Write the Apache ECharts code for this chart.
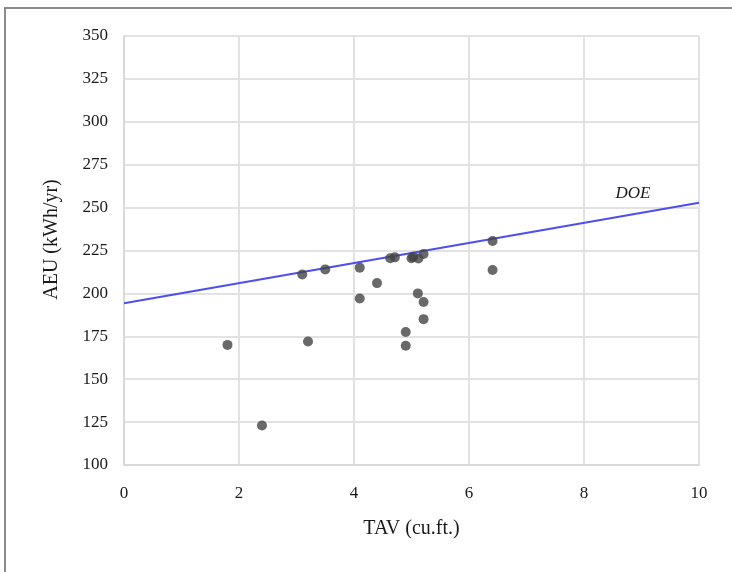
<!DOCTYPE html>
<html><head><meta charset="utf-8">
<script src="https://cdn.jsdelivr.net/npm/echarts@6/dist/echarts.min.js"></script>
<style>
html,body{margin:0;padding:0;background:#fff;}
#frame{position:absolute;left:4px;top:7px;width:740px;height:580px;border-left:2px solid #8a8a8a;border-top:2px solid #8a8a8a;}
#chart{position:absolute;left:0;top:0;width:732px;height:572px;}
</style></head>
<body>
<div id="frame"></div>
<div id="chart"></div>
<script>
var tavValues = [1.8, 2.4, 3.1, 3.2, 3.5, 4.1, 4.1, 4.4, 4.63, 4.71, 4.9, 4.9, 5.0, 5.03, 5.12, 5.11, 5.21, 5.21, 5.21, 6.41, 6.41];
var aeuValues = [170, 123, 211, 172, 214, 215, 197, 206, 220.5, 221, 177.5, 169.5, 220.5, 221.4, 220.3, 200, 223, 195, 185, 230.5, 213.6];
var doeLineX = [0, 10];
var doeLineY = [194.2, 252.8];
var doeLabel = 'DOE';
var doeLabelPos = [8.85, 258];
var xTicks = [0, 2, 4, 6, 8, 10];
var yTicks = [100, 125, 150, 175, 200, 225, 250, 275, 300, 325, 350];

var points = tavValues.map(function(x, i){ return [x, aeuValues[i]]; });
var lineData = doeLineX.map(function(x, i){ return [x, doeLineY[i]]; });

var chart = echarts.init(document.getElementById('chart'), null, {renderer:'canvas'});
var serif = '"Liberation Serif","Times New Roman",serif';
chart.setOption({
  animation:false,
  backgroundColor:'transparent',
  grid:{left:124, top:36, right:33, bottom:107, containLabel:false},
  xAxis:{
    type:'value', min:xTicks[0], max:xTicks[xTicks.length-1], interval:2,
    name:'TAV (cu.ft.)', nameLocation:'middle', nameGap:54,
    nameTextStyle:{fontFamily:serif, fontSize:20, color:'#1a1a1a'},
    axisLine:{show:true, lineStyle:{color:'#d9d9d9', width:2}},
    axisTick:{show:false},
    axisLabel:{fontFamily:serif, fontSize:17, color:'#1a1a1a', margin:20},
    splitLine:{show:true, lineStyle:{color:'#e2e2e2', width:2}}
  },
  yAxis:{
    type:'value', min:yTicks[0], max:yTicks[yTicks.length-1], interval:25,
    name:'AEU (kWh/yr)', nameLocation:'middle', nameGap:62,
    nameTextStyle:{fontFamily:serif, fontSize:20, color:'#1a1a1a', padding:[0,0,0,22]},
    axisLine:{show:true, lineStyle:{color:'#d9d9d9', width:2}},
    axisTick:{show:false},
    axisLabel:{fontFamily:serif, fontSize:17, color:'#1a1a1a', margin:16},
    splitLine:{show:true, lineStyle:{color:'#e2e2e2', width:2}}
  },
  series:[
    {
      type:'line', data:lineData, symbol:'none', z:2,
      lineStyle:{color:'#4b4ff2', width:2},
      markPoint:{
        symbol:'circle', symbolSize:0,
        data:[{coord:doeLabelPos, value:doeLabel}],
        label:{show:true, position:'inside', formatter:doeLabel, fontFamily:serif, fontStyle:'italic', fontSize:17, color:'#1a1a1a'}
      }
    },
    {
      type:'scatter', data:points, symbol:'circle', symbolSize:10, z:3,
      itemStyle:{color:'#444444'}
    }
  ]
});
</script>
</body></html>
